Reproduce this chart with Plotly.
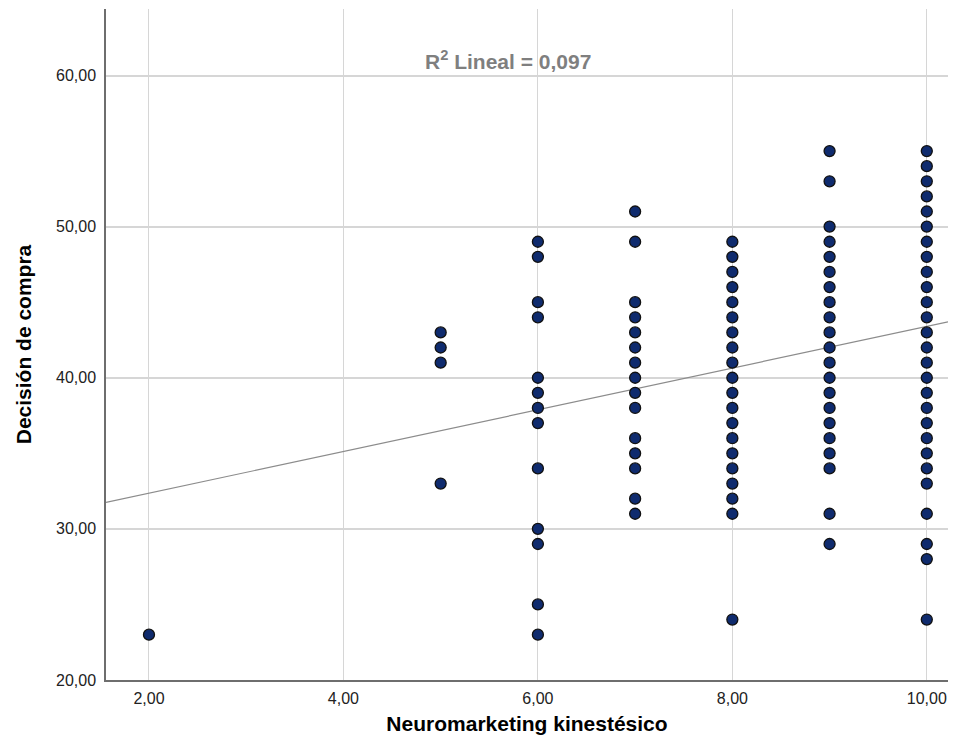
import plotly.graph_objects as go

# ---- data ----
x_levels = [2, 5, 6, 7, 8, 9, 10]
y_at_2 = [23]
y_at_5 = [43, 42, 41, 33]
y_at_6 = [49, 48, 45, 44, 40, 39, 38, 37, 34, 30, 29, 25, 23]
y_at_7 = [51, 49, 45, 44, 43, 42, 41, 40, 39, 38, 36, 35, 34, 32, 31]
y_at_8 = [49, 48, 47, 46, 45, 44, 43, 42, 41, 40, 39, 38, 37, 36, 35, 34, 33, 32, 31, 24]
y_at_9 = [55, 53, 50, 49, 48, 47, 46, 45, 44, 43, 42, 41, 40, 39, 38, 37, 36, 35, 34, 31, 29]
y_at_10 = [55, 54, 53, 52, 51, 50, 49, 48, 47, 46, 45, 44, 43, 42, 41, 40, 39, 38, 37,
           36, 35, 34, 33, 31, 29, 28, 24]
columns = [y_at_2, y_at_5, y_at_6, y_at_7, y_at_8, y_at_9, y_at_10]

fit_intercept = 29.6
fit_slope = 1.38
r2_text = "R<sup>2</sup> Lineal = 0,097"

x_ticks = [2, 4, 6, 8, 10]
x_tick_labels = ["2,00", "4,00", "6,00", "8,00", "10,00"]
y_ticks = [20, 30, 40, 50, 60]
y_tick_labels = ["20,00", "30,00", "40,00", "50,00", "60,00"]

x_range = [1.558, 10.218]
y_range = [20, 64.4]

xs, ys = [], []
for xv, col in zip(x_levels, columns):
    for yv in col:
        xs.append(xv)
        ys.append(yv)

fig = go.Figure()
fig.add_trace(go.Scatter(
    x=x_range,
    y=[fit_intercept + fit_slope * v for v in x_range],
    mode="lines", line=dict(color="#8c8c8c", width=1.2),
    hoverinfo="skip", showlegend=False))
fig.add_trace(go.Scatter(
    x=xs, y=ys, mode="markers",
    marker=dict(size=11, color="#0f2b6e", line=dict(color="#111111", width=1.3)),
    showlegend=False))

fig.add_annotation(text=r2_text, x=0.477, xref="paper", xanchor="center",
                   y=61.0, yref="y", yanchor="middle", showarrow=False,
                   font=dict(family="Liberation Sans", size=21, color="#7f7f7f", weight="bold"))

font_main = "Liberation Sans"
fig.update_layout(
    width=940, height=737,
    margin=dict(l=98, r=0, t=1, b=65),
    paper_bgcolor="white", plot_bgcolor="white",
    font=dict(family=font_main, color="#222222"),
)
fig.update_xaxes(
    range=x_range, tickvals=x_ticks, ticktext=x_tick_labels,
    showgrid=True, gridcolor="#d6d6d6", gridwidth=1,
    showline=True, linecolor="#6e6e6e", linewidth=1.5,
    zeroline=False, ticks="", ticklabelstandoff=3,
    tickfont=dict(size=16, color="#222222"),
    title=dict(text="Neuromarketing kinestésico", standoff=10,
               font=dict(size=21, color="#000000", weight="bold")),
)
fig.update_yaxes(
    range=y_range, tickvals=y_ticks, ticktext=y_tick_labels,
    showgrid=True, gridcolor="#d6d6d6", gridwidth=1.5,
    showline=True, linecolor="#6e6e6e", linewidth=1.5,
    zeroline=False, ticks="", ticklabelstandoff=5,
    tickfont=dict(size=16, color="#222222"),
    title=dict(text="Decisión de compra", standoff=19,
               font=dict(size=21, color="#000000", weight="bold")),
)

fig.write_html("out.html")
